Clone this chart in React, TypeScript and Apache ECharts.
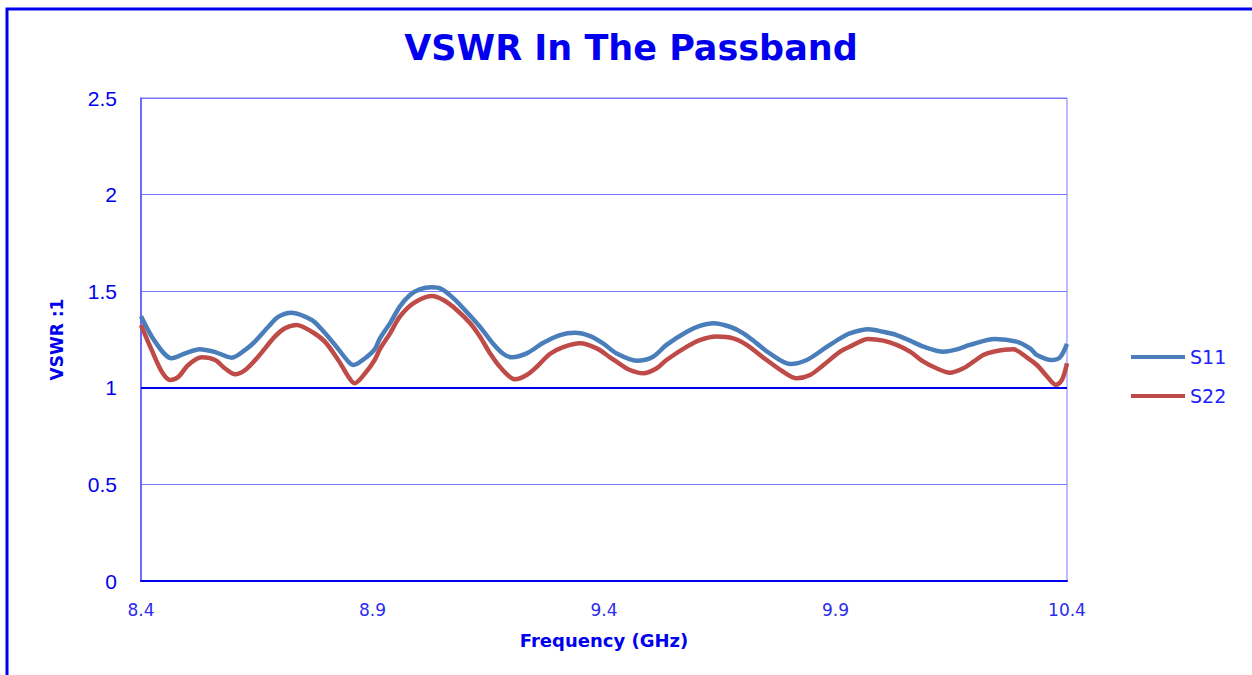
import React, { useEffect, useRef } from "react";
import * as echarts from "echarts";

const titleText = "VSWR In The Passband";
const xAxisName = "Frequency (GHz)";
const yAxisName = "VSWR :1";
const seriesNames = ["S11", "S22"];
const xTicks = [8.4, 8.9, 9.4, 9.9, 10.4];

const s11Freq = [
  8.4, 8.43, 8.466, 8.497, 8.527, 8.56, 8.596, 8.625, 8.646, 8.675, 8.697, 8.725,
  8.769, 8.79, 8.819, 8.848, 8.859, 8.884, 8.905, 8.916, 8.938, 8.959, 8.981, 9.003,
  9.028, 9.049, 9.075, 9.103, 9.132, 9.161, 9.183, 9.201, 9.233, 9.269, 9.305, 9.337,
  9.37, 9.398, 9.427, 9.471, 9.506, 9.535, 9.579, 9.607, 9.636, 9.672, 9.701, 9.73,
  9.758, 9.802, 9.838, 9.874, 9.91, 9.931, 9.971, 10.003, 10.032, 10.061, 10.09, 10.133,
  10.162, 10.19, 10.244, 10.291, 10.32, 10.335, 10.367, 10.385, 10.4,
];
const s11Vswr = [
  1.37, 1.24, 1.153, 1.18, 1.2, 1.185, 1.156, 1.196, 1.239, 1.316, 1.368, 1.389,
  1.351, 1.303, 1.222, 1.135, 1.118, 1.153, 1.2, 1.256, 1.335, 1.42, 1.48, 1.511,
  1.52, 1.511, 1.463, 1.394, 1.316, 1.227, 1.175, 1.158, 1.178, 1.233, 1.273, 1.285,
  1.268, 1.23, 1.178, 1.14, 1.161, 1.222, 1.29, 1.32, 1.334, 1.316, 1.282, 1.23,
  1.178, 1.123, 1.144, 1.2, 1.256, 1.282, 1.303, 1.29, 1.273, 1.244, 1.213, 1.187,
  1.199, 1.222, 1.253, 1.239, 1.204, 1.17, 1.144, 1.158, 1.227,
];

const s22Freq = [
  8.4, 8.423, 8.445, 8.463, 8.481, 8.502, 8.531, 8.56, 8.581, 8.603, 8.625, 8.653,
  8.689, 8.711, 8.736, 8.769, 8.797, 8.826, 8.848, 8.861, 8.884, 8.905, 8.916, 8.938,
  8.959, 8.988, 9.028, 9.053, 9.082, 9.111, 9.132, 9.154, 9.175, 9.208, 9.233, 9.255,
  9.283, 9.312, 9.348, 9.384, 9.413, 9.427, 9.456, 9.485, 9.514, 9.535, 9.579, 9.607,
  9.643, 9.679, 9.708, 9.751, 9.787, 9.816, 9.845, 9.874, 9.91, 9.931, 9.971, 10.003,
  10.032, 10.061, 10.09, 10.118, 10.147, 10.176, 10.198, 10.219, 10.241, 10.284, 10.313,
  10.335, 10.356, 10.376, 10.389, 10.4,
];
const s22Vswr = [
  1.325, 1.196, 1.083, 1.04, 1.057, 1.118, 1.158, 1.144, 1.101, 1.07, 1.092, 1.161,
  1.265, 1.308, 1.325, 1.29, 1.239, 1.144, 1.057, 1.023, 1.075, 1.145, 1.2, 1.282,
  1.368, 1.437, 1.475, 1.454, 1.403, 1.334, 1.265, 1.178, 1.109, 1.044, 1.066, 1.109,
  1.175, 1.21, 1.23, 1.204, 1.158, 1.135, 1.092, 1.075, 1.101, 1.144, 1.213, 1.247,
  1.265, 1.256, 1.222, 1.144, 1.083, 1.049, 1.066, 1.118, 1.187, 1.213, 1.253, 1.244,
  1.222, 1.187, 1.135, 1.101, 1.078, 1.101, 1.135, 1.17, 1.187, 1.199, 1.158,
  1.118, 1.061, 1.015, 1.04, 1.127,
];

const zip = (xs: number[], ys: number[]) => xs.map((x, i) => [x, ys[i]]);

export default function App() {
  const ref = useRef<HTMLDivElement>(null);
  useEffect(() => {
    if (!ref.current) return;
    const chart = echarts.init(ref.current, null, { renderer: "svg" });
    chart.setOption({
      animation: false,
      backgroundColor: "#ffffff",
      graphic: [
        {
          type: "rect",
          shape: { x: 7, y: 9, width: 1270, height: 700 },
          style: { fill: "none", stroke: "#0000ee", lineWidth: 3 },
          z: 0,
        },
        {
          type: "text",
          x: 631,
          y: 48,
          style: {
            text: titleText,
            fontFamily: "DejaVu Sans",
            fontWeight: "bold",
            fontSize: 35,
            fill: "#0000ee",
            textAlign: "center",
            textVerticalAlign: "middle",
          },
        },
      ],
      grid: {
        left: 141,
        top: 98,
        right: 185,
        bottom: 94,
        show: true,
        borderColor: "#7878ff",
        borderWidth: 1,
        backgroundColor: "transparent",
      },
      legend: {
        orient: "vertical",
        left: 1131,
        top: 347,
        padding: 0,
        icon: "rect",
        itemWidth: 54,
        itemHeight: 4,
        itemGap: 19,
        data: seriesNames,
        textStyle: {
          fontFamily: "DejaVu Sans",
          fontSize: 19,
          color: "#2020ff",
          lineHeight: 20,
        },
      },
      xAxis: {
        type: "value",
        min: 8.4,
        max: 10.4,
        name: xAxisName,
        nameLocation: "middle",
        nameGap: 50,
        nameTextStyle: {
          fontFamily: "DejaVu Sans",
          fontWeight: "bold",
          fontSize: 18,
          color: "#0000ee",
        },
        axisLine: { show: true, lineStyle: { color: "#0000ee", width: 2 } },
        axisTick: { show: false },
        splitLine: { show: false },
        axisLabel: {
          customValues: xTicks,
          formatter: (v: number) => String(Math.round(v * 10) / 10),
          fontFamily: "DejaVu Sans",
          fontSize: 17,
          color: "#2b2bee",
          margin: 20,
        },
      },
      yAxis: {
        type: "value",
        min: 0,
        max: 2.5,
        interval: 0.5,
        name: yAxisName,
        nameLocation: "middle",
        nameRotate: 90,
        nameGap: 76,
        nameTextStyle: {
          fontFamily: "DejaVu Sans",
          fontWeight: "bold",
          fontSize: 17,
          color: "#0000ee",
        },
        axisLine: { show: true, lineStyle: { color: "#5050ff", width: 1.5 } },
        axisTick: { show: false },
        splitLine: { show: true, lineStyle: { color: "#7878ff", width: 1 } },
        axisLabel: {
          fontFamily: "Liberation Sans",
          fontSize: 21,
          color: "#0000ee",
          margin: 24,
        },
      },
      series: [
        {
          name: seriesNames[0],
          type: "line",
          data: zip(s11Freq, s11Vswr),
          smooth: 0.3,
          symbol: "none",
          lineStyle: { color: "#4a7ebb", width: 4.5 },
          itemStyle: { color: "#4a7ebb" },
          markLine: {
            silent: true,
            symbol: "none",
            label: { show: false },
            lineStyle: { color: "#0000ee", width: 2, type: "solid" },
            data: [{ yAxis: 1 }],
          },
        },
        {
          name: seriesNames[1],
          type: "line",
          data: zip(s22Freq, s22Vswr),
          smooth: 0.3,
          symbol: "none",
          lineStyle: { color: "#be4b48", width: 4.5 },
          itemStyle: { color: "#be4b48" },
        },
      ],
    });
    return () => chart.dispose();
  }, []);
  return (
    <div
      ref={ref}
      style={{ position: "absolute", left: 0, top: 0, width: 1252, height: 675 }}
    />
  );
}
